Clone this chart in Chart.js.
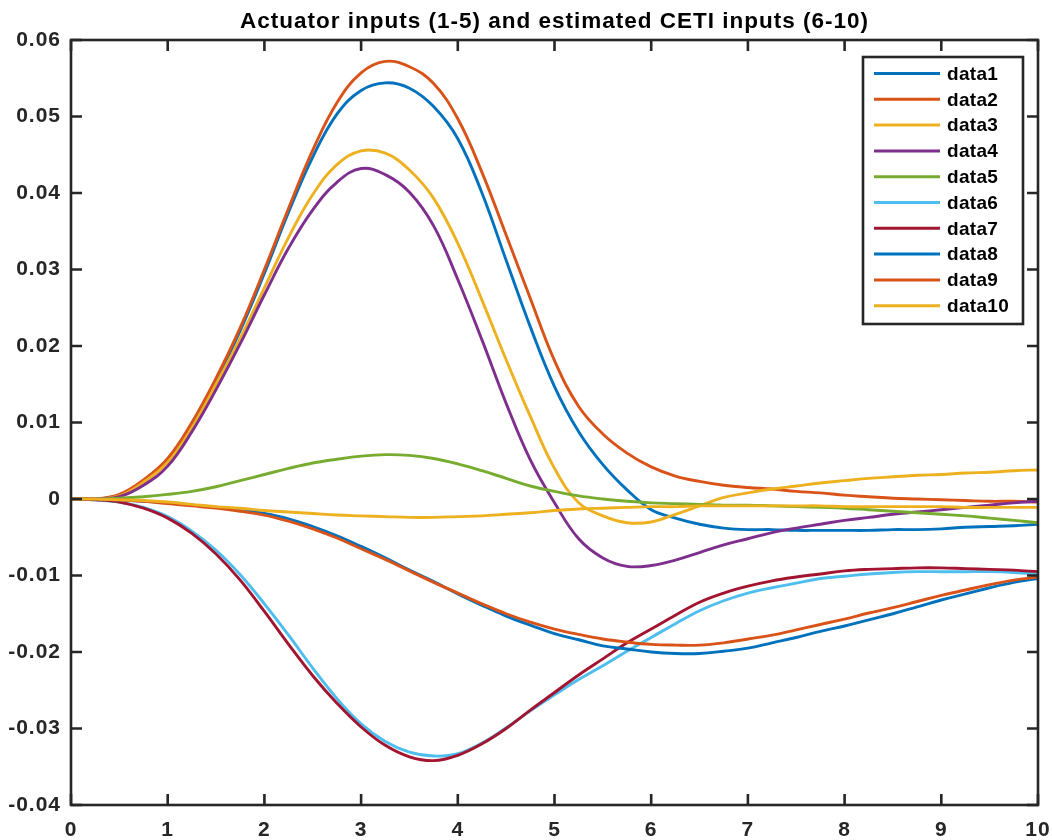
<!DOCTYPE html>
<html><head><meta charset="utf-8">
<script src="https://cdn.jsdelivr.net/npm/chart.js@4/dist/chart.umd.min.js"></script>
<style>html,body{margin:0;padding:0;background:#fff}</style>
</head><body>
<canvas id="c" width="1052" height="840"></canvas>
<script>
const titleText = 'Actuator inputs (1-5) and estimated CETI inputs (6-10)';
const xs = [0,0.25,0.5,0.75,1,1.25,1.5,1.75,2,2.25,2.5,2.75,3,3.25,3.5,3.75,4,4.25,4.5,4.75,5,5.25,5.5,5.75,6,6.25,6.5,6.75,7,7.25,7.5,7.75,8,8.25,8.5,8.75,9,9.25,9.5,9.75,10];
const seriesNames = ['data1','data2','data3','data4','data5','data6','data7','data8','data9','data10'];
const seriesColors = ['#0072BD','#D95319','#EDB120','#7E2F8E','#77AC30','#4DBEEE','#A2142F','#0072BD','#D95319','#EDB120'];
const xTicks = [0,1,2,3,4,5,6,7,8,9,10];
const xTickLabels = ['0','1','2','3','4','5','6','7','8','9','10'];
const yTicks = [-0.04,-0.03,-0.02,-0.01,0,0.01,0.02,0.03,0.04,0.05,0.06];
const yTickLabels = ['-0.04','-0.03','-0.02','-0.01','0','0.01','0.02','0.03','0.04','0.05','0.06'];

const data1 = [0,0,0.0005,0.0024,0.0052,0.0098,0.0155,0.0220,0.0295,0.0375,0.0447,0.0503,0.0534,0.0544,0.0537,0.0513,0.0471,0.0400,0.0312,0.0225,0.0147,0.0088,0.0045,0.0012,-0.0014,-0.0025,-0.0033,-0.0038,-0.0040,-0.0040,-0.0041,-0.0041,-0.0041,-0.0041,-0.0040,-0.0040,-0.0039,-0.0037,-0.0036,-0.0035,-0.0033];
const data2 = [0,0,0.0006,0.0025,0.0053,0.0100,0.0158,0.0224,0.0300,0.0380,0.0456,0.0518,0.0557,0.0572,0.0565,0.0543,0.0497,0.0427,0.0345,0.0262,0.0181,0.0121,0.0085,0.0060,0.0042,0.0030,0.0023,0.0018,0.0015,0.0013,0.0010,0.0008,0.0005,0.0003,0.0001,0,-0.0001,-0.0002,-0.0003,-0.0003,-0.0004];
const data3 = [0,0,0.0004,0.0022,0.0048,0.0093,0.0150,0.0210,0.0276,0.0342,0.0398,0.0437,0.0455,0.0452,0.0430,0.0393,0.0334,0.0260,0.0182,0.0108,0.0040,-0.0005,-0.0022,-0.0031,-0.0030,-0.0020,-0.0009,0.0002,0.0008,0.0013,0.0017,0.0021,0.0024,0.0027,0.0029,0.0031,0.0032,0.0034,0.0035,0.0037,0.0038];
const data4 = [0,0,0.0003,0.0018,0.0043,0.0088,0.0143,0.0203,0.0267,0.0328,0.0378,0.0414,0.0432,0.0424,0.0401,0.0357,0.0287,0.0208,0.0125,0.0051,-0.0005,-0.0052,-0.0077,-0.0088,-0.0087,-0.0080,-0.0070,-0.0060,-0.0052,-0.0044,-0.0038,-0.0033,-0.0028,-0.0024,-0.0020,-0.0017,-0.0014,-0.0011,-0.0008,-0.0005,-0.0003];
const data5 = [0,0,0.0001,0.0003,0.0006,0.0010,0.0016,0.0024,0.0032,0.0040,0.0047,0.0052,0.0056,0.0058,0.0057,0.0053,0.0046,0.0037,0.0027,0.0017,0.0010,0.0004,0,-0.0003,-0.0005,-0.0006,-0.0007,-0.0008,-0.0008,-0.0009,-0.0010,-0.0011,-0.0012,-0.0014,-0.0016,-0.0018,-0.0020,-0.0022,-0.0025,-0.0028,-0.0031];
const data6 = [0,-0.0001,-0.0004,-0.0011,-0.0023,-0.0042,-0.0067,-0.0099,-0.0137,-0.0178,-0.0221,-0.0261,-0.0294,-0.0317,-0.0331,-0.0336,-0.0333,-0.0319,-0.0299,-0.0277,-0.0256,-0.0236,-0.0218,-0.0199,-0.0181,-0.0163,-0.0146,-0.0133,-0.0123,-0.0116,-0.0110,-0.0104,-0.0101,-0.0098,-0.0096,-0.0095,-0.0095,-0.0095,-0.0095,-0.0096,-0.0098];
const data7 = [0,-0.0001,-0.0004,-0.0012,-0.0025,-0.0045,-0.0072,-0.0106,-0.0147,-0.0190,-0.0231,-0.0267,-0.0298,-0.0322,-0.0337,-0.0342,-0.0335,-0.0320,-0.0300,-0.0276,-0.0253,-0.0230,-0.0209,-0.0188,-0.0170,-0.0152,-0.0135,-0.0123,-0.0114,-0.0107,-0.0102,-0.0098,-0.0094,-0.0092,-0.0091,-0.0090,-0.0090,-0.0091,-0.0092,-0.0093,-0.0095];
const data8 = [0,0,-0.0001,-0.0003,-0.0005,-0.0008,-0.0011,-0.0014,-0.0019,-0.0026,-0.0036,-0.0048,-0.0062,-0.0077,-0.0093,-0.0108,-0.0124,-0.0139,-0.0153,-0.0165,-0.0176,-0.0184,-0.0192,-0.0196,-0.0200,-0.0202,-0.0202,-0.0199,-0.0195,-0.0188,-0.0181,-0.0173,-0.0166,-0.0158,-0.0150,-0.0141,-0.0132,-0.0124,-0.0116,-0.0109,-0.0104];
const data9 = [0,0,-0.0001,-0.0003,-0.0006,-0.0009,-0.0012,-0.0016,-0.0021,-0.0029,-0.0039,-0.0051,-0.0065,-0.0079,-0.0094,-0.0109,-0.0123,-0.0137,-0.0150,-0.0161,-0.0170,-0.0177,-0.0183,-0.0187,-0.0190,-0.0191,-0.0191,-0.0188,-0.0183,-0.0178,-0.0171,-0.0164,-0.0157,-0.0149,-0.0142,-0.0134,-0.0126,-0.0119,-0.0112,-0.0106,-0.0102];
const data10 = [0,0,-0.0001,-0.0002,-0.0004,-0.0007,-0.0010,-0.0012,-0.0015,-0.0017,-0.0019,-0.0021,-0.0022,-0.0023,-0.0024,-0.0024,-0.0023,-0.0022,-0.0020,-0.0018,-0.0015,-0.0013,-0.0012,-0.0011,-0.0010,-0.0010,-0.0009,-0.0009,-0.0009,-0.0009,-0.0009,-0.0009,-0.0010,-0.0010,-0.0010,-0.0010,-0.0010,-0.0011,-0.0011,-0.0011,-0.0011];

const allSeries = [data1,data2,data3,data4,data5,data6,data7,data8,data9,data10];
const FONT = '"Liberation Sans", Arial, Helvetica, sans-serif';
const AXIS = '#262626';

const datasets = allSeries.map((s, i) => ({
  label: seriesNames[i],
  data: s.map((v, k) => ({x: xs[k], y: v})),
  borderColor: seriesColors[i],
  backgroundColor: seriesColors[i],
  borderWidth: 2.9,
  pointRadius: 0,
  fill: false,
  tension: 0.4,
  order: allSeries.length - i
}));

const spacingPlugin = {
  id: 'spacing',
  beforeDraw(chart) { chart.ctx.letterSpacing = '1px'; },
  afterDraw(chart) { chart.ctx.letterSpacing = '0px'; }
};

const framePlugin = {
  id: 'frame',
  afterDatasetsDraw(chart) {
    const {ctx, chartArea: a, scales: {x, y}} = chart;
    ctx.save();
    ctx.strokeStyle = AXIS;
    ctx.lineWidth = 2.6;
    ctx.lineCap = 'butt';
    ctx.beginPath();
    const tl = 11;
    xTicks.forEach(v => {
      const p = x.getPixelForValue(v);
      ctx.moveTo(p, a.bottom); ctx.lineTo(p, a.bottom - tl);
      ctx.moveTo(p, a.top); ctx.lineTo(p, a.top + tl);
    });
    yTicks.forEach(v => {
      const p = y.getPixelForValue(v);
      ctx.moveTo(a.left, p); ctx.lineTo(a.left + tl, p);
      ctx.moveTo(a.right, p); ctx.lineTo(a.right - tl, p);
    });
    ctx.stroke();
    ctx.strokeRect(a.left, a.top, a.right - a.left, a.bottom - a.top);

    // legend box (top-right, inside axes)
    const bw = 160, bh = 267;
    const bx = a.right - 15 - bw, by = a.top + 17;
    ctx.fillStyle = '#fff';
    ctx.fillRect(bx, by, bw, bh);
    ctx.lineWidth = 2.6;
    ctx.strokeStyle = AXIS;
    ctx.strokeRect(bx, by, bw, bh);
    ctx.letterSpacing = '0.3px';
    ctx.font = 'bold 19px ' + FONT;
    ctx.textBaseline = 'middle';
    ctx.textAlign = 'left';
    chart.data.datasets.forEach((d, i) => {
      const ry = by + 16.5 + i * 25.8;
      ctx.strokeStyle = d.borderColor;
      ctx.lineWidth = 3;
      ctx.beginPath();
      ctx.moveTo(bx + 11, ry); ctx.lineTo(bx + 77, ry);
      ctx.stroke();
      ctx.fillStyle = '#000';
      ctx.fillText(d.label, bx + 84, ry + 1);
    });
    ctx.restore();
  }
};

new Chart(document.getElementById('c'), {
  type: 'line',
  data: {datasets},
  plugins: [spacingPlugin, framePlugin],
  options: {
    responsive: false,
    animation: false,
    devicePixelRatio: 1,
    layout: {padding: {left: 0, right: 14, top: 0, bottom: 0}},
    plugins: {
      legend: {display: false},
      tooltip: {enabled: false},
      title: {
        display: true,
        text: titleText,
        fullSize: false,
        color: '#000',
        font: {family: FONT, size: 22.5, weight: 'bold', lineHeight: 1.2},
        padding: {top: 8, bottom: 5}
      }
    },
    scales: {
      x: {
        type: 'linear', min: 0, max: 10,
        grid: {display: false, drawTicks: false}, border: {display: false},
        afterBuildTicks: s => { s.ticks = xTicks.map(v => ({value: v})); },
        afterFit: s => { s.height = 35; s.paddingLeft = 0; s.paddingRight = 0; },
        ticks: {
          autoSkip: false, maxRotation: 0, padding: 13,
          color: AXIS,
          font: {family: FONT, size: 21, weight: 'bold'},
          callback: (v, i) => xTickLabels[i]
        }
      },
      y: {
        type: 'linear', min: -0.04, max: 0.06,
        grid: {display: false, drawTicks: false}, border: {display: false},
        afterBuildTicks: s => { s.ticks = yTicks.map(v => ({value: v})); },
        afterFit: s => { s.width = 71; s.paddingTop = 0; s.paddingBottom = 0; },
        ticks: {
          autoSkip: false, padding: 10,
          color: AXIS,
          font: {family: FONT, size: 21, weight: 'bold'},
          callback: (v, i) => yTickLabels[i]
        }
      }
    }
  }
});
</script>
</body></html>
